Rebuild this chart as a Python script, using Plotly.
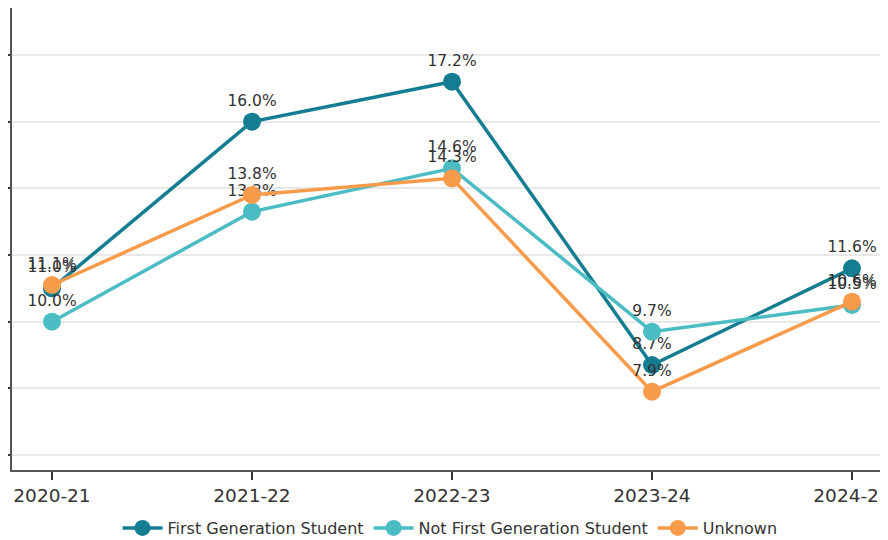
import plotly.graph_objects as go

years = ["2020-21", "2021-22", "2022-23", "2023-24", "2024-25"]
first_gen = [11.0, 16.0, 17.2, 8.7, 11.6]
not_first_gen = [10.0, 13.3, 14.6, 9.7, 10.5]
unknown = [11.1, 13.8, 14.3, 7.9, 10.6]

series = [
    ("First Generation Student", first_gen, "#147d92"),
    ("Not First Generation Student", not_first_gen, "#4bbcc3"),
    ("Unknown", unknown, "#f79b4b"),
]

fig = go.Figure()
for name, vals, color in series:
    fig.add_trace(go.Scatter(
        x=years, y=vals, name=name, mode="lines+markers+text",
        line=dict(color=color, width=3.5),
        marker=dict(color=color, size=18),
        text=[f"{v:.1f}%" for v in vals],
        textposition="top center",
        textfont=dict(family="DejaVu Sans", size=15.5, color="#333333"),
        cliponaxis=False,
    ))

fig.update_layout(
    width=888, height=540,
    margin=dict(l=4, r=8, t=0, b=78, autoexpand=False),
    plot_bgcolor="white", paper_bgcolor="white",
    font=dict(family="DejaVu Sans", size=16, color="#333333"),
    showlegend=True,
    legend=dict(orientation="h", x=0.5, xanchor="center", y=-0.1255, yanchor="middle",
                font=dict(size=16, color="#333333"), itemwidth=40),
    xaxis=dict(
        type="category", range=[-0.2, 4.18], showgrid=False,
        showline=True, linecolor="#555555", linewidth=2,
        ticks="outside", ticklen=8, tickwidth=2, tickcolor="#333333",
        tickfont=dict(size=18.5, color="#333333"), automargin=False,
    ),
    yaxis=dict(
        range=[5.55, 19.41], dtick=2, tick0=0,
        showgrid=True, gridcolor="#e8e8e8", gridwidth=2,
        showline=True, linecolor="#555555", linewidth=2,
        ticks="outside", ticklen=8, tickwidth=2, tickcolor="#333333",
        showticklabels=False, zeroline=False, automargin=False,
    ),
)

fig.write_html("out.html")
